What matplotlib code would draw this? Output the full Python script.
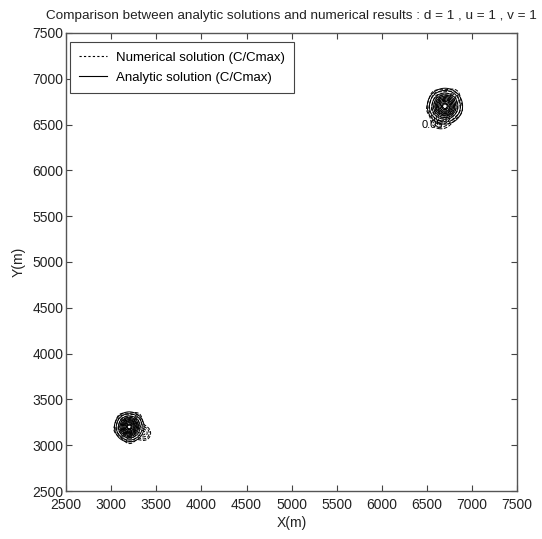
import numpy as np
import matplotlib
matplotlib.use("Agg")
import matplotlib.pyplot as plt
from matplotlib.lines import Line2D

plt.rcParams['font.family'] = ['Liberation Sans', 'DejaVu Sans']

# Plume centres (m) and spread (m) of the two snapshots
centers_x = [3200, 6700]
centers_y = [3200, 6700]
spreads = [67, 80]
# Contour levels of relative concentration C/Cmax
levels = [0.05, 0.10, 0.20, 0.30, 0.40, 0.50, 0.60, 0.70, 0.80, 0.90, 0.95]
# Offset of the trailing lobe of the numerical plume (m)
tail_dx = [160, -60]
tail_dy = [-70, -150]

x_ticks = [2500, 3000, 3500, 4000, 4500, 5000, 5500, 6000, 6500, 7000, 7500]
y_ticks = [2500, 3000, 3500, 4000, 4500, 5000, 5500, 6000, 6500, 7000, 7500]

fig = plt.figure(figsize=(5.42, 5.39), dpi=100)
ax = fig.add_axes([0.122, 0.089, 0.832, 0.850])

for cx, cy, s, tx, ty in zip(centers_x, centers_y, spreads, tail_dx, tail_dy):
    gx = np.linspace(cx - 6 * s, cx + 6 * s, 241)
    gy = np.linspace(cy - 6 * s, cy + 6 * s, 241)
    X, Y = np.meshgrid(gx, gy)
    R2 = ((X - cx) ** 2 + (Y - cy) ** 2) / (2 * s ** 2)
    analytic = np.exp(-R2)
    ax.contour(X, Y, analytic, levels=levels, colors='k', linewidths=0.7,
               linestyles='solid')
    # numerical field: slightly distorted plume with a trailing lobe
    th = np.arctan2(Y - cy, X - cx)
    ripple = 1 + 0.12 * np.sin(5 * th) + 0.08 * np.cos(3 * th + 1.0)
    numeric = np.exp(-R2 * ripple) + 0.3 * np.exp(
        -((X - cx - tx) ** 2 + (Y - cy - ty) ** 2) / (2 * (0.6 * s) ** 2))
    numeric = numeric / numeric.max()
    ax.contour(X, Y, numeric, levels=levels, colors='k', linewidths=0.7,
               linestyles='dashed')

# label of the outer numerical contour of the later plume
ax.text(6560, 6500, '0.05', fontsize=8, ha='center', va='center')

ax.set_xlim(2500, 7500)
ax.set_ylim(2500, 7500)
ax.set_xticks(x_ticks)
ax.set_yticks(y_ticks)
ax.tick_params(direction='in', top=True, right=True, length=4, width=0.8,
               labelsize=10, colors='#444444', labelcolor='#222222')
ax.tick_params(axis='y', pad=2)
ax.tick_params(axis='x', pad=5)
for sp in ax.spines.values():
    sp.set_color('#555555')
    sp.set_linewidth(1.0)

ax.set_xlabel('X(m)', fontsize=10, labelpad=3, color='#222222')
ax.set_ylabel('Y(m)', fontsize=10, labelpad=5, color='#222222')
ax.set_title('Comparison between analytic solutions and numerical results : d = 1 , u = 1 , v = 1',
             fontsize=9.7, pad=10, color='#222222')

handles = [Line2D([], [], color='k', lw=0.8, ls=(0, (2, 2))),
           Line2D([], [], color='k', lw=0.8, ls='-')]
leg = ax.legend(handles, ['Numerical solution (C/Cmax)', 'Analytic solution (C/Cmax)'],
                loc='upper left', bbox_to_anchor=(0.009, 0.98), borderaxespad=0,
                fontsize=9.5, fancybox=False, edgecolor='#444444',
                framealpha=1, handlelength=2.1, handletextpad=0.7,
                borderpad=0.7, labelspacing=0.6)
leg.get_frame().set_linewidth(0.8)

fig.savefig('out.png', dpi=100)
